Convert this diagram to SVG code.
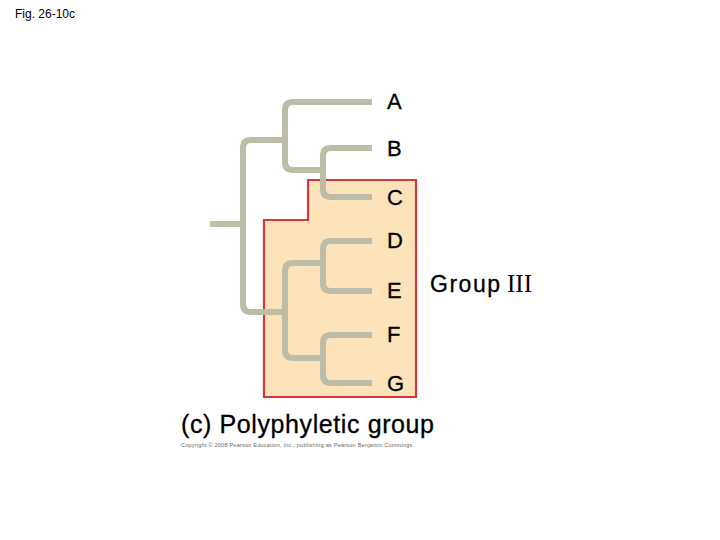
<svg xmlns="http://www.w3.org/2000/svg" width="720" height="540" viewBox="0 0 720 540">
<style>
.br{fill:none;stroke:#bdbca6;stroke-width:6;stroke-linejoin:round}
.lbl{font-family:"Liberation Sans",Arial,sans-serif;font-size:22px;fill:#000;stroke:#000;stroke-width:0.3}
</style>
<rect width="720" height="540" fill="#fff"/>
<text x="15" y="18" font-family="Liberation Sans,Arial,sans-serif" font-size="12" fill="#000">Fig. 26-10c</text>
<g id="group3">
<path d="M308 180 H416 V397 H264 V220 H308 Z" fill="#fde3ba" stroke="#d9363a" stroke-width="2.2"/>
</g>
<g id="connectors">
<path class="br" d="M210 224 H243"/>
<path class="br" d="M285 140 H251 Q243 140 243 148 V304 Q243 312 251 312 H285"/>
<path class="br" d="M372 102 H293 Q285 102 285 110 V162 Q285 170 293 170 H323"/>
<path class="br" d="M372 148 H331 Q323 148 323 156 V189 Q323 197 331 197 H372"/>
<path class="br" d="M372 241 H331 Q323 241 323 249 V283 Q323 291 331 291 H372"/>
<path class="br" d="M323 263 H293 Q285 263 285 271 V350 Q285 358 293 358 H323"/>
<path class="br" d="M372 335 H331 Q323 335 323 343 V375 Q323 383 331 383 H372"/>
</g>
<g id="A"><text class="lbl" x="387" y="109">A</text></g>
<g id="B"><text class="lbl" x="387" y="156">B</text></g>
<g id="C"><text class="lbl" x="387" y="205">C</text></g>
<g id="D"><text class="lbl" x="387" y="248">D</text></g>
<g id="E"><text class="lbl" x="387" y="298">E</text></g>
<g id="F"><text class="lbl" x="387" y="342">F</text></g>
<g id="G"><text class="lbl" x="387" y="391">G</text></g>
<g id="group-label">
<text class="lbl" x="430" y="292" font-size="23" style="font-size:23px" textLength="70">Group</text>
<text x="507" y="292" font-family="Liberation Serif,Times New Roman,serif" font-size="25" fill="#000">III</text>
</g>
<text x="181" y="433" font-family="Liberation Sans,Arial,sans-serif" font-size="25" fill="#000" stroke="#000" stroke-width="0.3" textLength="253">(c) Polyphyletic group</text>
<text x="181" y="447" font-family="Liberation Sans,Arial,sans-serif" font-size="5.5" fill="#666" textLength="233">Copyright © 2008 Pearson Education, Inc., publishing as Pearson Benjamin Cummings.</text>
</svg>
